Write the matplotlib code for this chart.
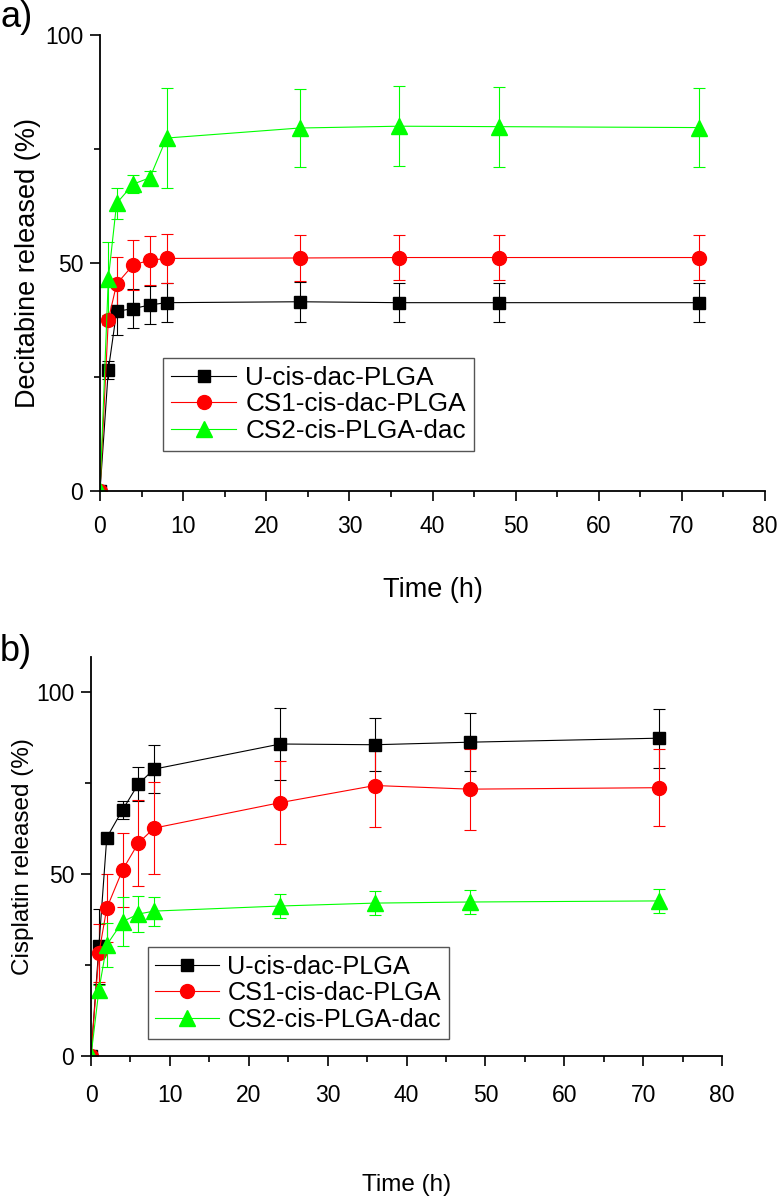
import matplotlib.pyplot as plt
from matplotlib.ticker import MultipleLocator

plt.rcParams['font.family'] = ['Liberation Sans', 'DejaVu Sans']

time_h = [0, 1, 2, 4, 6, 8, 24, 36, 48, 72]
labels = ['U-cis-dac-PLGA', 'CS1-cis-dac-PLGA', 'CS2-cis-PLGA-dac']
colors = ['black', 'red', '#00ff00']
markers = ['s', 'o', '^']
msizes = [8.5, 10, 11.5]

# a) decitabine release
dec_u = [0, 26.5, 39.4, 40.0, 40.8, 41.3, 41.5, 41.3, 41.3, 41.3]
dec_u_err = [0, 2.0, 5.2, 4.2, 4.2, 4.3, 4.4, 4.3, 4.3, 4.3]
dec_cs1 = [0, 37.5, 45.4, 49.6, 50.6, 51.0, 51.1, 51.2, 51.2, 51.2]
dec_cs1_err = [0, 1.0, 6.0, 5.5, 5.4, 5.3, 5.0, 5.0, 5.0, 5.0]
dec_cs2 = [0, 46.5, 63.1, 67.3, 68.7, 77.4, 79.6, 80.0, 79.9, 79.7]
dec_cs2_err = [0, 8.0, 3.4, 1.9, 1.4, 11.0, 8.6, 8.8, 8.8, 8.7]

# b) cisplatin release
cis_u = [0, 30.1, 60.0, 67.6, 74.7, 78.8, 85.7, 85.5, 86.2, 87.3]
cis_u_err = [0, 10.3, 1.0, 2.4, 4.6, 6.6, 9.9, 7.3, 8.0, 8.1]
cis_cs1 = [0, 28.2, 40.6, 51.1, 58.5, 62.6, 69.6, 74.3, 73.3, 73.7]
cis_cs1_err = [0, 8.0, 9.4, 10.2, 11.8, 12.6, 11.4, 11.4, 11.1, 10.5]
cis_cs2 = [0, 18.1, 30.5, 36.9, 39.0, 39.8, 41.2, 42.0, 42.3, 42.6]
cis_cs2_err = [0, 1.5, 6.0, 6.7, 5.0, 4.0, 3.4, 3.2, 3.2, 3.2]


def draw(ax, ys, errs, ytop, ylabel, anchor, fs_lab, fs_leg, xlab_y, ylab_x, xpad):
    handles = []
    for y, e, c, m, ms, lab in zip(ys, errs, colors, markers, msizes, labels):
        eb = ax.errorbar(time_h, y, yerr=e, color=c, marker=m, ms=ms, lw=0.8,
                         elinewidth=0.8, capsize=4.5, capthick=0.8, label=lab)
        handles.append(eb.lines[0])
    ax.set_xlim(0, 80)
    ax.set_ylim(0, ytop)
    ax.xaxis.set_major_locator(MultipleLocator(10))
    ax.xaxis.set_minor_locator(MultipleLocator(5))
    ax.yaxis.set_major_locator(MultipleLocator(50))
    ax.yaxis.set_minor_locator(MultipleLocator(25))
    ax.spines['top'].set_visible(False)
    ax.spines['right'].set_visible(False)
    for s in ['left', 'bottom']:
        ax.spines[s].set_linewidth(1.3)
    ax.tick_params(which='major', direction='out', length=7, width=1.2,
                   labelsize=16.5, pad=5)
    ax.tick_params(which='minor', direction='out', length=4.5, width=1.2)
    ax.tick_params(axis='x', which='major', pad=xpad)
    ax.set_xlabel('Time (h)', fontsize=fs_lab, va='center')
    ax.xaxis.set_label_coords(0.5, xlab_y)
    ax.set_ylabel(ylabel, fontsize=fs_lab, va='center')
    ax.yaxis.set_label_coords(ylab_x, 0.5)
    leg = ax.legend(handles, labels, loc='upper left', bbox_to_anchor=anchor,
                    fontsize=fs_leg, numpoints=1, handlelength=2.5,
                    handletextpad=0.35, labelspacing=0.1, borderpad=0.3,
                    borderaxespad=0, fancybox=False, framealpha=1)
    leg.get_frame().set_edgecolor('#555555')
    leg.get_frame().set_linewidth(1.0)


fig = plt.figure(figsize=(7.79, 12.04), dpi=100)
ax1 = fig.add_axes([100 / 779, (1204 - 491) / 1204, 665 / 779, 456 / 1204])
ax2 = fig.add_axes([91 / 779, (1204 - 1056) / 1204, 631 / 779, 399 / 1204])

draw(ax1, [dec_u, dec_cs1, dec_cs2], [dec_u_err, dec_cs1_err, dec_cs2_err],
     100, 'Decitabine released (%)', (0.095, 0.292), 19.5, 18.8,
     -0.217, -0.108, 10)
draw(ax2, [cis_u, cis_cs1, cis_cs2], [cis_u_err, cis_cs1_err, cis_cs2_err],
     109.6, 'Cisplatin released (%)', (0.09, 0.273), 17.5, 18.2,
     -0.323, -0.108, 13)

fig.text(0.0, 1.0, 'a)', fontsize=26, va='top', ha='left')
fig.text(0.0, (1204 - 634) / 1204, 'b)', fontsize=26, va='top', ha='left')

fig.savefig('out.png', dpi=100)
